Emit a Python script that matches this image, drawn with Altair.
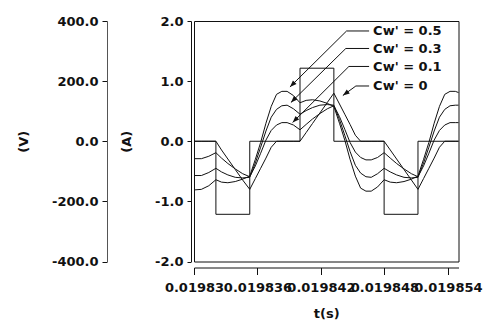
import math
import altair as alt
import pandas as pd

# ---------------- data ----------------
T0 = 0.01983  # s, left end of the time axis
# time grid, microseconds after T0
t_us = [0, 0.7, 1.4, 2.07,
        2.6, 3.2, 3.9, 4.6, 5.27,
        5.8, 6.3, 6.8, 7.3, 7.8, 8.3, 8.8, 9.4, 10.02,
        10.6, 11.2, 11.9, 12.6, 13.22,
        13.75, 14.25, 14.75, 15.25, 15.75, 16.25, 16.75, 17.35, 17.97,
        18.55, 19.15, 19.85, 20.55, 21.17,
        21.7, 22.2, 22.7, 23.2, 23.7, 24.2, 24.7, 25.0]

# currents (A)
i_cw05 = [-0.81, -0.80, -0.74, -0.64,
          -0.68, -0.69, -0.67, -0.63, -0.58,
          -0.30, -0.02, 0.30, 0.58, 0.78, 0.83, 0.83, 0.76, 0.64,
          0.68, 0.69, 0.67, 0.63, 0.58,
          0.30, 0.02, -0.30, -0.58, -0.78, -0.83, -0.83, -0.76, -0.64,
          -0.68, -0.69, -0.67, -0.63, -0.58,
          -0.30, -0.02, 0.30, 0.58, 0.78, 0.83, 0.83, 0.81]
i_cw03 = [-0.57, -0.57, -0.52, -0.45,
          -0.51, -0.56, -0.60, -0.61, -0.60,
          -0.36, -0.10, 0.17, 0.40, 0.53, 0.59, 0.60, 0.54, 0.45,
          0.51, 0.56, 0.60, 0.61, 0.60,
          0.36, 0.10, -0.17, -0.40, -0.53, -0.59, -0.60, -0.54, -0.45,
          -0.51, -0.56, -0.60, -0.61, -0.60,
          -0.36, -0.10, 0.17, 0.40, 0.53, 0.59, 0.60, 0.60]
i_cw01 = [-0.29, -0.29, -0.25, -0.19,
          -0.28, -0.37, -0.46, -0.54, -0.59,
          -0.41, -0.20, 0.02, 0.18, 0.27, 0.31, 0.31, 0.27, 0.19,
          0.28, 0.37, 0.46, 0.54, 0.59,
          0.41, 0.20, -0.02, -0.18, -0.27, -0.31, -0.31, -0.27, -0.19,
          -0.28, -0.37, -0.46, -0.54, -0.59,
          -0.41, -0.20, 0.02, 0.18, 0.27, 0.31, 0.31, 0.31]
i_cw0 = [0, 0, 0, 0,
         -0.145, -0.295, -0.47, -0.645, -0.80,
         -0.62, -0.45, -0.28, -0.10, 0, 0, 0, 0, 0,
         0.145, 0.295, 0.47, 0.645, 0.80,
         0.62, 0.45, 0.28, 0.10, 0, 0, 0, 0, 0,
         -0.145, -0.295, -0.47, -0.645, -0.80,
         -0.62, -0.45, -0.28, -0.10, 0, 0, 0, 0]

# square-wave voltage (V)
v_t_us = [0, 2.07, 2.07, 5.27, 5.27, 10.02, 10.02, 13.22, 13.22, 17.97, 17.97, 21.17, 21.17, 25.0]
v_val = [0, 0, -243, -243, 0, 0, 243, 243, 0, 0, -243, -243, 0, 0]

series_names = ["Cw' = 0.5", "Cw' = 0.3", "Cw' = 0.1", "Cw' = 0"]
series_vals = [i_cw05, i_cw03, i_cw01, i_cw0]

# annotation anchors (time in us after T0, current in A)
ann_text_u = 16.93
ann_text_a = [1.826, 1.535, 1.227, 0.919]
ann_line_end_u = 16.55
ann_knee_u = [14.42, 14.35, 14.64, 15.30]
ann_knee_a = [1.834, 1.543, 1.244, 0.919]
ann_tip_u = [9.07, 9.16, 9.32, 14.07]
ann_tip_a = [0.903, 0.645, 0.312, 0.761]

# ---------------- frames ----------------
W, H = 264.5, 240.5
X_DOM = [T0, T0 + 25e-6]
A_DOM = [-2.0, 2.0]
V_DOM = [-400.0, 400.0]

cur = pd.DataFrame([
    {"t": T0 + u * 1e-6, "i": v, "series": name, "k": k}
    for name, vals in zip(series_names, series_vals)
    for k, (u, v) in enumerate(zip(t_us, vals))
])
volt = pd.DataFrame({"t": [T0 + u * 1e-6 for u in v_t_us], "v": v_val,
                     "k": list(range(len(v_val)))})

def px(u, a):
    return (u * 1e-6 / (X_DOM[1] - X_DOM[0]) * W,
            (A_DOM[1] - a) / (A_DOM[1] - A_DOM[0]) * H)

ang = []
for ku, ka, tu, ta in zip(ann_knee_u, ann_knee_a, ann_tip_u, ann_tip_a):
    x1, y1 = px(ku, ka)
    x2, y2 = px(tu, ta)
    ang.append((math.degrees(math.atan2(x2 - x1, -(y2 - y1))) + 360) % 360)

labels = pd.DataFrame({"t": [T0 + ann_text_u * 1e-6] * 4, "i": ann_text_a,
                       "label": series_names})
hseg = pd.DataFrame({"t": [T0 + u * 1e-6 for u in ann_knee_u],
                     "t2": [T0 + ann_line_end_u * 1e-6] * 4,
                     "i": ann_knee_a})
dseg = pd.DataFrame({"t": [T0 + u * 1e-6 for u in ann_knee_u],
                     "t2": [T0 + u * 1e-6 for u in ann_tip_u],
                     "i": ann_knee_a, "i2": ann_tip_a})
heads = pd.DataFrame({"t": [T0 + u * 1e-6 for u in ann_tip_u], "i": ann_tip_a,
                      "ang": ang})

FONT = "DejaVu Sans"
FS = 13
FW = "bold"
INK = "#111111"

xscale = alt.Scale(domain=X_DOM, nice=False, zero=False)
ascale = alt.Scale(domain=A_DOM, nice=False, zero=False)
vscale = alt.Scale(domain=V_DOM, nice=False, zero=False)

x_axis = alt.Axis(values=[0.01983, 0.019836, 0.019842, 0.019848, 0.019854],
                  format=".6~f", title="t(s)", offset=6, tickSize=7,
                  labelFlush=False, labelOverlap=False, grid=False,
                  labelPadding=7, titlePadding=13)
minus_fix = "replace(datum.label, '\u2212', '-')"

v_layer = alt.Chart(volt).mark_line(color=INK, strokeWidth=1).encode(
    x=alt.X("t:Q", scale=xscale, axis=x_axis),
    y=alt.Y("v:Q", scale=vscale,
            axis=alt.Axis(orient="left", values=[-400, -200, 0, 200, 400],
                          format=".1f", labelExpr=minus_fix, title="(V)",
                          offset=87, tickSize=5, labelPadding=4,
                          titlePadding=21, grid=False, domainColor="#555555")),
    order="k:Q",
)

c_layer = alt.Chart(cur).mark_line(color=INK, strokeWidth=1).encode(
    x=alt.X("t:Q", scale=xscale),
    y=alt.Y("i:Q", scale=ascale,
            axis=alt.Axis(orient="left", values=[-2, -1, 0, 1, 2],
                          format=".1f", labelExpr=minus_fix, title="(A)",
                          offset=3, tickSize=4, labelPadding=4,
                          titlePadding=21, grid=False)),
    detail="series:N",
    order="k:Q",
)

txt = alt.Chart(labels).mark_text(align="left", baseline="middle", font=FONT,
                                  fontSize=FS, fontWeight=FW, color=INK).encode(
    x=alt.X("t:Q", scale=xscale), y=alt.Y("i:Q", scale=ascale), text="label:N")
hl = alt.Chart(hseg).mark_rule(color=INK, strokeWidth=1).encode(
    x=alt.X("t:Q", scale=xscale), x2="t2:Q", y=alt.Y("i:Q", scale=ascale))
dl = alt.Chart(dseg).mark_rule(color=INK, strokeWidth=1).encode(
    x=alt.X("t:Q", scale=xscale), x2="t2:Q",
    y=alt.Y("i:Q", scale=ascale), y2="i2:Q")
hd = alt.Chart(heads).mark_point(shape="M0,0L0.38,1L-0.38,1Z", filled=True,
                                 color=INK, opacity=1, size=180).encode(
    x=alt.X("t:Q", scale=xscale), y=alt.Y("i:Q", scale=ascale),
    angle=alt.Angle("ang:Q", scale=None))

inner = alt.layer(c_layer, hl, dl, hd, txt)

chart = alt.layer(v_layer, inner).resolve_scale(y="independent").properties(
    width=W, height=H,
    autosize=alt.AutoSizeParams(type="none"),
    padding={"left": 194, "top": 21, "right": 41, "bottom": 64},
    background="white",
).configure_view(stroke=INK, strokeWidth=1).configure_axis(
    labelFont=FONT, labelFontSize=FS, labelFontWeight=FW, labelColor=INK,
    titleFont=FONT, titleFontSize=FS, titleFontWeight=FW, titleColor=INK,
    domainColor=INK, tickColor=INK,
)

chart.save("out.html", embed_options={"renderer": "svg", "actions": False})
